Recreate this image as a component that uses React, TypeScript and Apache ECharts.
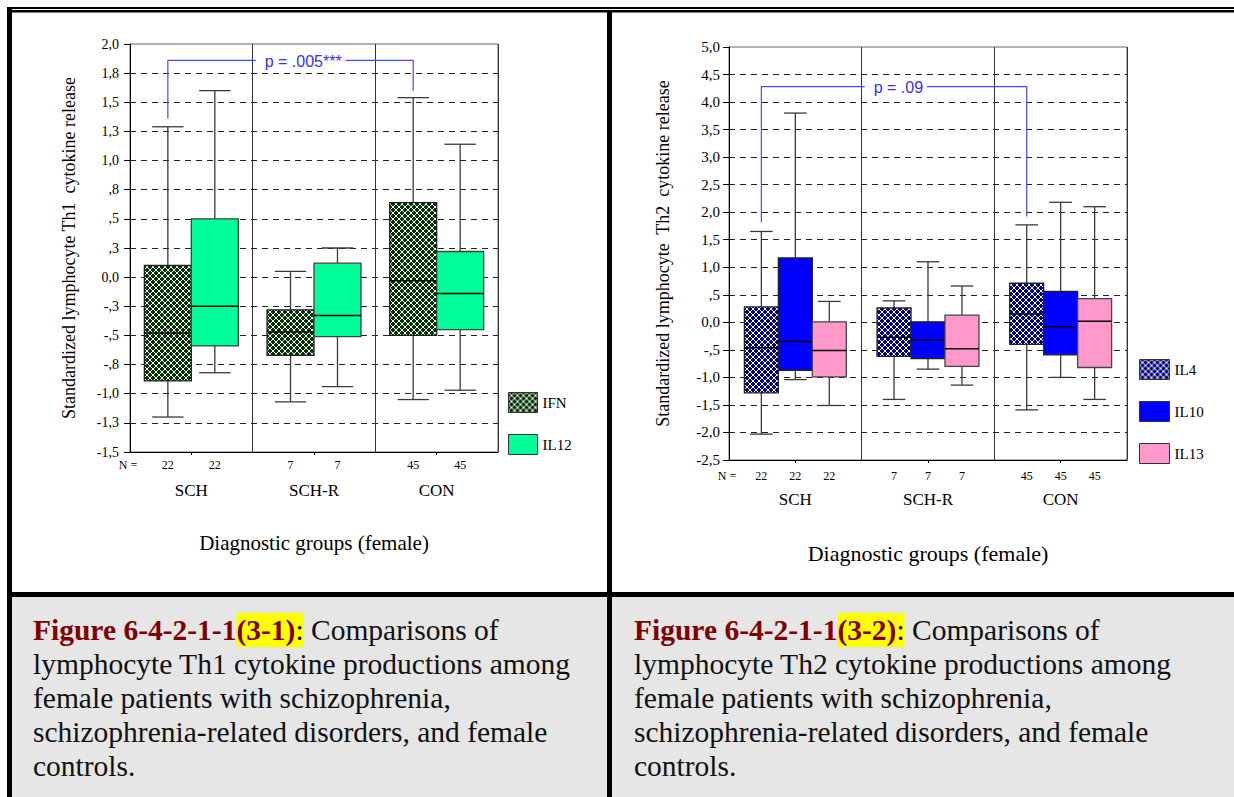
import React, { useEffect, useRef } from 'react';
import * as echarts from 'echarts';

const SERIF = '"Liberation Serif", "Times New Roman", serif';
const SANS = '"Liberation Sans", Arial, sans-serif';

// ---------- data ----------
const groups = ['SCH', 'SCH-R', 'CON'];

// each row: [groupIndex, lowerWhisker, Q1, median, Q3, upperWhisker]
const ifnStats = [
  [0, -1.2, -0.89, -0.48, 0.1, 1.29],
  [1, -1.07, -0.67, -0.47, -0.28, 0.05],
  [2, -1.05, -0.5, -0.03, 0.64, 1.54],
];
const il12Stats = [
  [0, -0.82, -0.59, -0.25, 0.5, 1.6],
  [1, -0.94, -0.51, -0.33, 0.12, 0.25],
  [2, -0.97, -0.45, -0.14, 0.22, 1.14],
];
const il4Stats = [
  [0, -2.03, -1.28, -0.46, 0.28, 1.65],
  [1, -1.4, -0.62, -0.27, 0.26, 0.39],
  [2, -1.59, -0.4, 0.15, 0.71, 1.77],
];
const il10Stats = [
  [0, -1.04, -0.87, -0.35, 1.17, 3.8],
  [1, -0.85, -0.66, -0.32, 0.01, 1.1],
  [2, -1.0, -0.59, -0.08, 0.56, 2.18],
];
const il13Stats = [
  [0, -1.51, -0.99, -0.51, 0.01, 0.38],
  [1, -1.14, -0.8, -0.48, 0.13, 0.66],
  [2, -1.4, -0.82, 0.02, 0.43, 2.1],
];

const th1N = [22, 7, 45];
const th2N = [22, 7, 45];

const th1Ticks = ['-1,5', '-1,3', '-1,0', '-,8', '-,5', '-,3', '0,0', ',3', ',5', ',8', '1,0', '1,3', '1,5', '1,8', '2,0'];
const th2Ticks = ['-2,5', '-2,0', '-1,5', '-1,0', '-,5', '0,0', ',5', '1,0', '1,5', '2,0', '2,5', '3,0', '3,5', '4,0', '4,5', '5,0'];

// bracket: [fromGroup, toGroup, barLevel, fromLegEnd, toLegEnd]
const th1Bracket = [0, 2, 1.86, 1.36, 1.6];
const th2Bracket = [0, 2, 4.28, 1.82, 1.92];
const th1PLabel = 'p = .005***';
const th2PLabel = 'p = .09';

const captionLeft = [
  '{fig|Figure 6-4-2-1-1}{hl|(3-1)}{hlc|:}{txt| Comparisons of}',
  '{txt|lymphocyte Th1 cytokine productions among}',
  '{txt|female patients with schizophrenia,}',
  '{txt|schizophrenia-related disorders, and female}',
  '{txt|controls.}',
];
const captionRight = [
  '{fig|Figure 6-4-2-1-1}{hl|(3-2)}{hlc|:}{txt| Comparisons of}',
  '{txt|lymphocyte Th2 cytokine productions among}',
  '{txt|female patients with schizophrenia,}',
  '{txt|schizophrenia-related disorders, and female}',
  '{txt|controls.}',
];

// ---------- helpers ----------
function makeHatch(bg: string) {
  const c = document.createElement('canvas');
  c.width = 6;
  c.height = 6;
  const ctx = c.getContext('2d')!;
  ctx.fillStyle = bg;
  ctx.fillRect(0, 0, 6, 6);
  ctx.fillStyle = '#ffffff';
  for (let i = 0; i < 6; i++) {
    ctx.fillRect(i, i, 1, 1);
    ctx.fillRect(5 - i, i, 1, 1);
  }
  return { image: c, repeat: 'repeat', imageWidth: 6, imageHeight: 6 } as any;
}

let measureCtx: CanvasRenderingContext2D | null = null;
function textWidth(s: string, font: string) {
  if (!measureCtx) measureCtx = document.createElement('canvas').getContext('2d');
  measureCtx!.font = font;
  return measureCtx!.measureText(s).width;
}

function boxSeries(o: any) {
  return {
    type: 'custom',
    name: o.name,
    xAxisIndex: o.axis,
    yAxisIndex: o.axis,
    data: o.data,
    encode: { x: 0, y: [1, 2, 3, 4, 5] },
    itemStyle: { color: o.fill, borderColor: o.border },
    clip: false,
    silent: true,
    z: 3,
    renderItem: (params: any, api: any) => {
      const g = api.value(0);
      const band = api.size([1, 0])[0];
      const w = band * o.frac;
      const cx = api.coord([g, 0])[0] + (o.slot - (o.slots - 1) / 2) * w;
      const py = (v: number) => api.coord([g, v])[1];
      const yMin = py(api.value(1));
      const yQ1 = py(api.value(2));
      const yMed = py(api.value(3));
      const yQ3 = py(api.value(4));
      const yMax = py(api.value(5));
      const axisY = py(o.axisMin);
      const capHalf = w / 3;
      const wl = { stroke: '#3a3a3a', lineWidth: 1.3 };
      return {
        type: 'group',
        children: [
          { type: 'line', shape: { x1: cx, y1: yMax, x2: cx, y2: yQ3 }, style: wl },
          { type: 'line', shape: { x1: cx, y1: yQ1, x2: cx, y2: yMin }, style: wl },
          { type: 'line', shape: { x1: cx - capHalf, y1: yMax, x2: cx + capHalf, y2: yMax }, style: wl },
          { type: 'line', shape: { x1: cx - capHalf, y1: yMin, x2: cx + capHalf, y2: yMin }, style: wl },
          {
            type: 'rect',
            shape: { x: cx - w / 2, y: yQ3, width: w, height: yQ1 - yQ3 },
            style: { fill: o.fill, stroke: o.border, lineWidth: 1.3 },
          },
          {
            type: 'line',
            shape: { x1: cx - w / 2, y1: yMed, x2: cx + w / 2, y2: yMed },
            style: { stroke: '#000', lineWidth: 1.5 },
          },
          {
            type: 'text',
            x: cx,
            y: axisY + o.nOffset,
            style: {
              text: String(o.n[g]),
              align: 'center',
              verticalAlign: 'middle',
              fontFamily: SERIF,
              fontSize: 12,
              fill: '#000',
            },
          },
        ],
      };
    },
  };
}

function bracketSeries(o: any) {
  const BLUE = '#4848ff';
  return {
    type: 'custom',
    name: o.name,
    xAxisIndex: o.axis,
    yAxisIndex: o.axis,
    data: [o.bracket],
    encode: { x: 0, y: 2 },
    clip: false,
    silent: true,
    z: 6,
    renderItem: (params: any, api: any) => {
      const band = api.size([1, 0])[0];
      const off = (o.slot - (o.slots - 1) / 2) * band * o.frac;
      const xA = api.coord([api.value(0), 0])[0] + off;
      const xB = api.coord([api.value(1), 0])[0] + off;
      const yBar = api.coord([0, api.value(2)])[1];
      const yA = api.coord([0, api.value(3)])[1];
      const yB = api.coord([0, api.value(4)])[1];
      const center0 = api.coord([0, 0])[0];
      const sep = center0 + band / 2;
      const axisLeft = center0 - band / 2;
      const axisY = api.coord([0, o.axisMin])[1];
      const fs = 16;
      const tw = textWidth(o.label, `${fs}px ${SANS}`);
      const tx = sep + 12;
      const ls = { stroke: BLUE, lineWidth: 1.2, fill: 'none' };
      return {
        type: 'group',
        children: [
          { type: 'polyline', shape: { points: [[xA, yA], [xA, yBar], [tx - 9, yBar]] }, style: ls },
          {
            type: 'text',
            x: tx,
            y: yBar + 1,
            style: {
              text: o.label,
              align: 'left',
              verticalAlign: 'middle',
              fontFamily: SANS,
              fontSize: fs,
              fill: '#3030ff',
            },
          },
          { type: 'polyline', shape: { points: [[tx + tw + 4, yBar], [xB, yBar], [xB, yB]] }, style: ls },
          {
            type: 'text',
            x: axisLeft - 2,
            y: axisY + o.nOffset,
            style: {
              text: 'N =',
              align: 'center',
              verticalAlign: 'middle',
              fontFamily: SERIF,
              fontSize: 12,
              fill: '#000',
            },
          },
        ],
      };
    },
  };
}

function xAxisCfg(gridIndex: number, nameGap: number, nameSize: number, labelMargin: number) {
  return {
    type: 'category',
    gridIndex,
    data: groups,
    boundaryGap: true,
    name: 'Diagnostic groups (female)',
    nameLocation: 'middle',
    nameGap,
    nameTextStyle: { fontFamily: SERIF, fontSize: nameSize, color: '#000' },
    axisLine: { show: true, onZero: false, lineStyle: { color: '#000', width: 1 } },
    axisTick: { show: true, alignWithLabel: true, length: 3, inside: false, lineStyle: { color: '#000' } },
    axisLabel: { show: true, interval: 0, margin: labelMargin, fontFamily: SERIF, fontSize: 17, color: '#000' },
    splitLine: { show: true, interval: 0, lineStyle: { color: '#333', width: 1, type: 'solid' } },
  };
}

function yAxisCfg(
  gridIndex: number,
  min: number,
  max: number,
  step: number,
  ticks: string[],
  name: string,
  fontSize: number,
  nameGap: number,
  labelMargin: number
) {
  return {
    type: 'value',
    gridIndex,
    min,
    max,
    interval: step,
    name,
    nameLocation: 'middle',
    nameGap,
    nameTextStyle: { fontFamily: SERIF, fontSize: 18, color: '#000' },
    axisLine: { show: true, onZero: false, lineStyle: { color: '#000', width: 1 } },
    axisTick: { show: true, length: 6, inside: false, lineStyle: { color: '#000' } },
    axisLabel: {
      show: true,
      margin: labelMargin,
      fontFamily: SERIF,
      fontSize,
      color: '#000',
      formatter: (v: number) => ticks[Math.round((v - min) / step)] ?? '',
    },
    splitLine: {
      show: true,
      showMinLine: false,
      showMaxLine: false,
      lineStyle: { color: '#222', width: 1, type: [6, 5] },
    },
  };
}

function buildOption() {
  const ifnFill = makeHatch('#003300');
  const il4Fill = makeHatch('#000080');
  const il12Fill = '#00ff99';
  const il10Fill = '#0000ff';
  const il13Fill = '#ff99cc';

  const TH1_MIN = -1.5;
  const TH2_MIN = -2.5;
  const FRAC1 = 0.383;
  const FRAC2 = 0.256;
  const CAP_FS = 29.5;

  const capRich = {
    fig: { fontFamily: SERIF, fontSize: CAP_FS, fontWeight: 'bold', fill: '#800000', lineHeight: 34 },
    hl: {
      fontFamily: SERIF,
      fontSize: CAP_FS,
      fontWeight: 'bold',
      fill: '#800000',
      backgroundColor: '#ffff00',
      lineHeight: 34,
      height: 34,
    },
    hlc: { fontFamily: SERIF, fontSize: CAP_FS, fill: '#000', backgroundColor: '#ffff00', lineHeight: 34, height: 34 },
    txt: { fontFamily: SERIF, fontSize: CAP_FS, fill: '#111', lineHeight: 34 },
  };

  const legendText = { fontFamily: SERIF, fontSize: 15, color: '#000' };

  return {
    animation: false,
    backgroundColor: 'transparent',
    grid: [
      {
        left: 130,
        top: 44,
        width: 368,
        height: 408,
        show: true,
        borderColor: '#666',
        borderWidth: 1,
        backgroundColor: 'transparent',
        containLabel: false,
        outerBoundsMode: 'none',
      },
      {
        left: 729,
        top: 47,
        width: 398,
        height: 413,
        show: true,
        borderColor: '#666',
        borderWidth: 1,
        backgroundColor: 'transparent',
        containLabel: false,
        outerBoundsMode: 'none',
      },
    ],
    xAxis: [xAxisCfg(0, 80, 21, 30), xAxisCfg(1, 82, 22, 31)],
    yAxis: [
      yAxisCfg(0, TH1_MIN, 2.0, 0.25, th1Ticks, 'Standardized lymphocyte Th1  cytokine release', 14, 52, 11),
      yAxisCfg(1, TH2_MIN, 5.0, 0.5, th2Ticks, 'Standardized lymphocyte  Th2  cytokine release', 15, 57, 9),
    ],
    legend: [
      {
        data: [
          { name: 'IFN', itemStyle: { color: makeHatch('#003300'), borderColor: '#333', borderWidth: 1 } },
          { name: 'IL12', itemStyle: { color: il12Fill, borderColor: '#333', borderWidth: 1 } },
        ],
        orient: 'vertical',
        left: 508,
        top: 392,
        padding: 0,
        itemWidth: 29,
        itemHeight: 20,
        itemGap: 21,
        icon: 'rect',
        selectedMode: false,
        textStyle: legendText,
      },
      {
        data: [
          { name: 'IL4', itemStyle: { color: makeHatch('#000080'), borderColor: '#333', borderWidth: 1 } },
          { name: 'IL10', itemStyle: { color: il10Fill, borderColor: '#333', borderWidth: 1 } },
          { name: 'IL13', itemStyle: { color: il13Fill, borderColor: '#333', borderWidth: 1 } },
        ],
        orient: 'vertical',
        left: 1139,
        top: 359,
        padding: 0,
        itemWidth: 30,
        itemHeight: 20,
        itemGap: 21,
        icon: 'rect',
        selectedMode: false,
        textStyle: legendText,
      },
    ],
    series: [
      boxSeries({ name: 'IFN', axis: 0, data: ifnStats, slot: 0, slots: 2, frac: FRAC1, fill: ifnFill, border: '#222', n: th1N, nOffset: 13, axisMin: TH1_MIN }),
      boxSeries({ name: 'IL12', axis: 0, data: il12Stats, slot: 1, slots: 2, frac: FRAC1, fill: il12Fill, border: '#404040', n: th1N, nOffset: 13, axisMin: TH1_MIN }),
      bracketSeries({ name: 'th1-p', axis: 0, bracket: th1Bracket, label: th1PLabel, slot: 0, slots: 2, frac: FRAC1, nOffset: 13, axisMin: TH1_MIN }),
      boxSeries({ name: 'IL4', axis: 1, data: il4Stats, slot: 0, slots: 3, frac: FRAC2, fill: il4Fill, border: '#222', n: th2N, nOffset: 16, axisMin: TH2_MIN }),
      boxSeries({ name: 'IL10', axis: 1, data: il10Stats, slot: 1, slots: 3, frac: FRAC2, fill: il10Fill, border: '#222', n: th2N, nOffset: 16, axisMin: TH2_MIN }),
      boxSeries({ name: 'IL13', axis: 1, data: il13Stats, slot: 2, slots: 3, frac: FRAC2, fill: il13Fill, border: '#444', n: th2N, nOffset: 16, axisMin: TH2_MIN }),
      bracketSeries({ name: 'th2-p', axis: 1, bracket: th2Bracket, label: th2PLabel, slot: 0, slots: 3, frac: FRAC2, nOffset: 16, axisMin: TH2_MIN }),
    ],
    graphic: {
      elements: [
        // caption cell backgrounds
        { type: 'rect', shape: { x: 12, y: 597, width: 595, height: 200 }, style: { fill: '#e6e6e6' }, silent: true, z: -1 },
        { type: 'rect', shape: { x: 612, y: 597, width: 622, height: 200 }, style: { fill: '#e6e6e6' }, silent: true, z: -1 },
        // table borders
        { type: 'rect', shape: { x: 7, y: 7, width: 1227, height: 2 }, style: { fill: '#000' }, silent: true },
        { type: 'rect', shape: { x: 7, y: 10, width: 1227, height: 2.5 }, style: { fill: '#000' }, silent: true },
        { type: 'rect', shape: { x: 7, y: 7, width: 5, height: 790 }, style: { fill: '#000' }, silent: true },
        { type: 'rect', shape: { x: 607, y: 10, width: 5, height: 787 }, style: { fill: '#000' }, silent: true },
        { type: 'rect', shape: { x: 7, y: 592, width: 1227, height: 5 }, style: { fill: '#000' }, silent: true },
        // captions
        {
          type: 'text',
          x: 33,
          y: 613,
          silent: true,
          style: { text: captionLeft.join('\n'), rich: capRich, fontFamily: SERIF, fontSize: CAP_FS, lineHeight: 34, align: 'left', verticalAlign: 'top' },
        },
        {
          type: 'text',
          x: 634,
          y: 613,
          silent: true,
          style: { text: captionRight.join('\n'), rich: capRich, fontFamily: SERIF, fontSize: CAP_FS, lineHeight: 34, align: 'left', verticalAlign: 'top' },
        },
      ],
    },
  };
}

export default function App() {
  const ref = useRef<HTMLDivElement>(null);
  useEffect(() => {
    if (!ref.current) return;
    const chart = echarts.init(ref.current, undefined, { renderer: 'svg' });
    chart.setOption(buildOption() as any);
    return () => chart.dispose();
  }, []);
  return (
    <div
      ref={ref}
      style={{ position: 'absolute', left: 0, top: 0, width: 1234, height: 797 }}
    />
  );
}
